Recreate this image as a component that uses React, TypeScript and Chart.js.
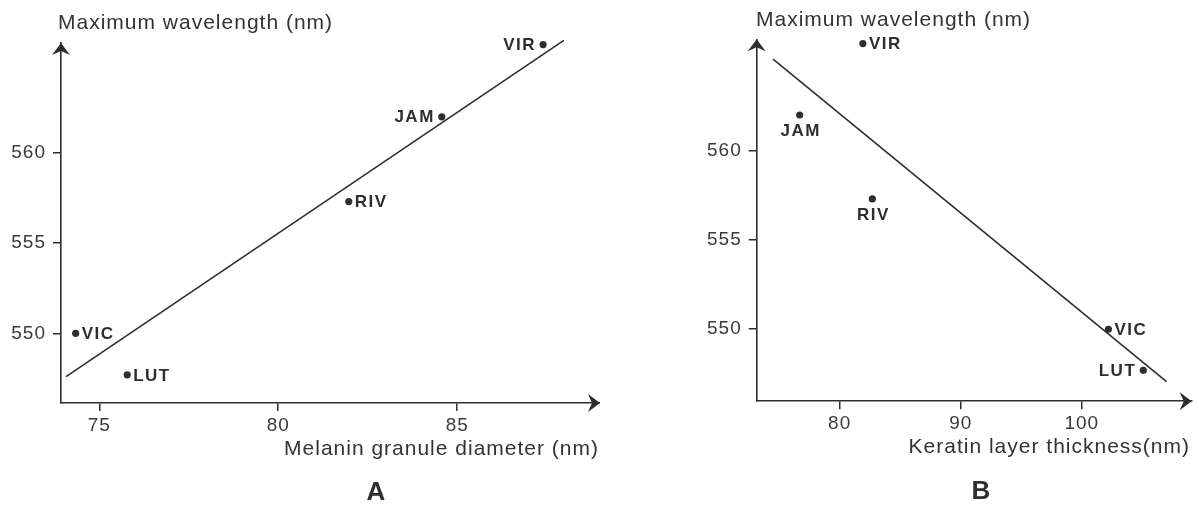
import React, { useEffect, useRef } from "react";
import { Chart, registerables } from "chart.js";

Chart.register(...registerables);

// ---- data ----
const species = ["VIR", "JAM", "RIV", "VIC", "LUT"];
const maxWavelength = [566.0, 562.0, 557.3, 550.0, 547.7];
const melaninDiameter = [87.4, 84.57, 81.97, 74.34, 75.78];
const keratinThickness = [81.92, 76.7, 82.7, 102.2, 105.08];
const fitMelaninX = [74.07, 87.98];
const fitMelaninY = [547.6, 566.24];
const fitKeratinX = [74.5, 107.0];
const fitKeratinY = [565.13, 547.07];
const wavelengthTicks = [550, 555, 560];
const melaninTicks = [75, 80, 85];
const keratinTicks = [80, 90, 100];
const yTitle = "Maximum wavelength (nm)";
const melaninTitle = "Melanin granule diameter (nm)";
const keratinTitle = "Keratin layer thickness(nm)";
const panelLetters = ["A", "B"];

const INK = "#2e2e2e";
const FONT = "'Liberation Sans', Arial, sans-serif";

type Panel = {
  letter: string;
  xs: number[];
  fitX: number[];
  fitY: number[];
  xTicks: number[];
  xTitle: string;
  xMin: number;
  xMax: number;
  yMin: number;
  yMax: number;
  left: number;
  width: number;
  yAxisWidth: number;
  padTop: number;
  padRight: number;
  xAxisHeight: number;
  labelPos: string[];
  yTitleX: number;
  yTitleY: number;
  xTitleRight: number;
  xTitleY: number;
  letterX: number;
  letterY: number;
};

const panels: Panel[] = [
  {
    letter: panelLetters[0],
    xs: melaninDiameter,
    fitX: fitMelaninX,
    fitY: fitMelaninY,
    xTicks: melaninTicks,
    xTitle: melaninTitle,
    xMin: 73.93,
    xMax: 88.99,
    yMin: 546.14,
    yMax: 566.09,
    left: 0,
    width: 600,
    yAxisWidth: 61,
    padTop: 43,
    padRight: 0,
    xAxisHeight: 104,
    labelPos: ["left", "left", "right", "right", "right"],
    yTitleX: 58,
    yTitleY: 29,
    xTitleRight: 599,
    xTitleY: 455,
    letterX: 376,
    letterY: 500,
  },
  {
    letter: panelLetters[1],
    xs: keratinThickness,
    fitX: fitKeratinX,
    fitY: fitKeratinY,
    xTicks: keratinTicks,
    xTitle: keratinTitle,
    xMin: 73.15,
    xMax: 109.08,
    yMin: 545.97,
    yMax: 566.24,
    left: 600,
    width: 599,
    yAxisWidth: 156.7,
    padTop: 39.3,
    padRight: 7.3,
    xAxisHeight: 105.8,
    labelPos: ["right", "below", "below", "right", "left"],
    yTitleX: 156,
    yTitleY: 26,
    xTitleRight: 590,
    xTitleY: 453,
    letterX: 381,
    letterY: 499,
  },
];

function makeDecor(p: Panel) {
  return {
    id: "decor" + p.letter,
    beforeDraw(chart: any) {
      const ctx = chart.ctx;
      ctx.save();
      ctx.fillStyle = "#ffffff";
      ctx.fillRect(0, 0, chart.width, chart.height);
      ctx.restore();
      (ctx as any).letterSpacing = "1px";
    },
    afterDraw(chart: any) {
      const ctx = chart.ctx;
      const { left, right, top, bottom } = chart.chartArea;
      ctx.save();
      ctx.fillStyle = INK;
      // y-axis arrowhead
      ctx.beginPath();
      ctx.moveTo(left, top);
      ctx.lineTo(left + 9, top + 12);
      ctx.lineTo(left, top + 8);
      ctx.lineTo(left - 9, top + 12);
      ctx.closePath();
      ctx.fill();
      // x-axis arrowhead
      ctx.beginPath();
      ctx.moveTo(right, bottom);
      ctx.lineTo(right - 12, bottom - 9);
      ctx.lineTo(right - 8, bottom);
      ctx.lineTo(right - 12, bottom + 9);
      ctx.closePath();
      ctx.fill();

      // titles
      (ctx as any).letterSpacing = "1px";
      ctx.font = `21px ${FONT}`;
      ctx.fillStyle = "#333333";
      ctx.textBaseline = "alphabetic";
      ctx.textAlign = "left";
      ctx.fillText(yTitle, p.yTitleX, p.yTitleY);
      ctx.textAlign = "right";
      ctx.fillText(p.xTitle, p.xTitleRight, p.xTitleY);

      (ctx as any).letterSpacing = "0px";
      ctx.font = `bold 26px ${FONT}`;
      ctx.textAlign = "center";
      ctx.fillStyle = INK;
      ctx.fillText(p.letter, p.letterX, p.letterY);

      // point labels
      const meta = chart.getDatasetMeta(1);
      (ctx as any).letterSpacing = "1.5px";
      ctx.font = `bold 17px ${FONT}`;
      ctx.fillStyle = INK;
      meta.data.forEach((el: any, i: number) => {
        const pos = p.labelPos[i];
        const txt = species[i];
        if (pos === "left") {
          ctx.textAlign = "right";
          ctx.textBaseline = "middle";
          ctx.fillText(txt, el.x - 7, el.y + 1);
        } else if (pos === "right") {
          ctx.textAlign = "left";
          ctx.textBaseline = "middle";
          ctx.fillText(txt, el.x + 6, el.y + 1);
        } else {
          ctx.textAlign = "center";
          ctx.textBaseline = "middle";
          ctx.fillText(txt, el.x + 1, el.y + 16);
        }
      });
      ctx.restore();
    },
  };
}

function PanelChart({ p }: { p: Panel }) {
  const ref = useRef<HTMLCanvasElement | null>(null);
  useEffect(() => {
    if (!ref.current) return;
    const axisCommon = {
      type: "linear" as const,
      grid: {
        display: true,
        drawOnChartArea: false,
        drawTicks: true,
        tickLength: 8,
        color: INK,
        tickColor: INK,
        lineWidth: 1.5,
        tickWidth: 1.5,
      },
      border: { display: true, color: INK, width: 1.6 },
    };
    const chart = new Chart(ref.current, {
      type: "scatter",
      data: {
        datasets: [
          {
            data: p.fitX.map((x, i) => ({ x, y: p.fitY[i] })),
            showLine: true,
            borderColor: INK,
            borderWidth: 1.6,
            pointRadius: 0,
            clip: false,
          } as any,
          {
            data: p.xs.map((x, i) => ({ x, y: maxWavelength[i] })),
            pointRadius: 3.6,
            backgroundColor: INK,
            borderWidth: 0,
            clip: false,
          } as any,
        ],
      },
      options: {
        animation: false,
        responsive: false,
        maintainAspectRatio: false,
        events: [],
        layout: {
          autoPadding: false,
          padding: { top: p.padTop, right: p.padRight, bottom: 0, left: 0 },
        },
        plugins: { legend: { display: false }, tooltip: { enabled: false } },
        scales: {
          x: {
            ...axisCommon,
            position: "bottom",
            min: p.xMin,
            max: p.xMax,
            afterBuildTicks: (s: any) => {
              s.ticks = p.xTicks.map((v) => ({ value: v }));
            },
            afterFit: (s: any) => {
              s.height = p.xAxisHeight;
              s.paddingLeft = 0;
              s.paddingRight = 0;
            },
            ticks: {
              color: "#3a3a3a",
              font: { family: FONT, size: 19 },
              padding: 3,
              maxRotation: 0,
              autoSkip: false,
            },
          },
          y: {
            ...axisCommon,
            position: "left",
            min: p.yMin,
            max: p.yMax,
            afterBuildTicks: (s: any) => {
              s.ticks = wavelengthTicks.map((v) => ({ value: v }));
            },
            afterFit: (s: any) => {
              s.width = p.yAxisWidth;
              s.paddingTop = 0;
              s.paddingBottom = 0;
            },
            ticks: {
              color: "#3a3a3a",
              font: { family: FONT, size: 19 },
              padding: 7,
              autoSkip: false,
            },
          },
        },
      } as any,
      plugins: [makeDecor(p)],
    });
    return () => chart.destroy();
  }, [p]);
  return (
    <canvas
      ref={ref}
      width={p.width}
      height={507}
      style={{
        position: "absolute",
        left: p.left,
        top: 0,
        width: p.width,
        height: 507,
        display: "block",
      }}
    />
  );
}

export default function App() {
  return (
    <div
      style={{
        position: "absolute",
        left: 0,
        top: 0,
        width: 1199,
        height: 507,
        background: "#ffffff",
        overflow: "hidden",
      }}
    >
      {panels.map((p) => (
        <PanelChart key={p.letter} p={p} />
      ))}
    </div>
  );
}
